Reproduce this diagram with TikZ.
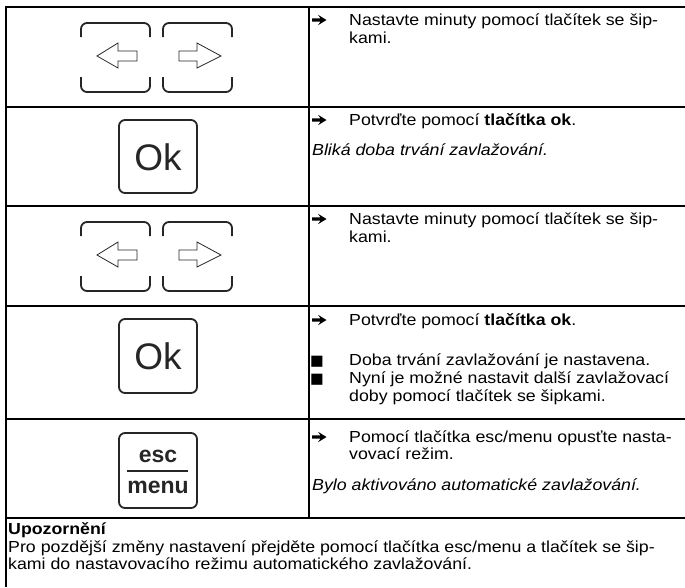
\documentclass[tikz,border=0pt]{standalone}
\usepackage{fontspec}
\setmainfont{Liberation Sans}
\newfontfamily\bodyfont{Liberation Sans}[FakeStretch=1.11]
\newfontfamily\symfont{DejaVu Sans}
\tikzset{
  grid/.style={line width=1.2pt, black},
  keyline/.style={line width=1.8pt, black!85, rounded corners=6pt},
  arrowline/.style={line width=0.8pt, black!85, line join=miter},
  bularrow/.style={fill=black},
  txt/.style={anchor=base west, inner sep=0pt, font=\bodyfont\fontsize{16}{18}\selectfont},
  sq/.style={anchor=base west, inner sep=0pt, font=\symfont\fontsize{14.5}{18}\selectfont},
  oktxt/.style={anchor=base, inner sep=0pt, font=\fontsize{37}{40}\selectfont, black!85},
  esctxt/.style={anchor=base, inner sep=0pt, font=\bfseries\fontsize{23}{26}\selectfont, black!85},
}
\newcommand{\arrowkeys}[1]{%
\begin{scope}[yshift=#1]
\draw[keyline] (81,37) -- (81,23) -- (150,23) -- (150,37);
\draw[keyline] (81,77) -- (81,92) -- (150,92) -- (150,77);
\draw[keyline] (163,37) -- (163,23) -- (232,23) -- (232,37);
\draw[keyline] (163,77) -- (163,92) -- (232,92) -- (232,77);
\draw[arrowline] (97,56) -- (118,43) -- (118,51) -- (137,51) -- (137,61) -- (118,61) -- (118,68) -- cycle;
\draw[arrowline] (221,56) -- (197,43) -- (197,51) -- (179,51) -- (179,61) -- (197,61) -- (197,68) -- cycle;
\end{scope}}
% heavy arrow bullet, centred vertically at #1
\newcommand{\bulletarrow}[1]{%
\fill[bularrow] (312,#1-1.6) -- (320.5,#1-1.6) -- (318,#1-5.2) -- (326.5,#1) -- (318,#1+5.2) -- (320.5,#1+1.6) -- (312,#1+1.6) -- cycle;}
\begin{document}
\begin{tikzpicture}[x=1pt,y=-1pt]
\useasboundingbox (0,0) rectangle (685,587);
% table grid
\draw[grid] (685,7) -- (6,7) -- (6,587);
\foreach \yy in {107,206,306,419,518} \draw[grid] (6,\yy) -- (685,\yy);
\draw[grid] (309,7) -- (309,518);

% ---- arrow keys
\arrowkeys{0pt}
\arrowkeys{-199pt}

% ---- Ok keys
\draw[keyline] (119,120) rectangle (197,193);
\node[oktxt] (ok1) at (158,170) {Ok};
\draw[keyline] (119,319) rectangle (197,393);
\node[oktxt] (ok2) at (158,369) {Ok};

% ---- esc/menu key
\draw[keyline] (119,433) rectangle (197,508);
\node[esctxt] (esc) at (158,462) {esc};
\draw[line width=2pt, black!85] (127,471) -- (188,471);
\node[esctxt] (menu) at (158,493) {menu};

% ---- right column texts
\bulletarrow{20}
\node[txt] (t1a) at (349,25) {Nastavte minuty pomocí tlačítek se šip-};
\node[txt] (t1b) at (349,43) {kami.};

\bulletarrow{120}
\node[txt] (t2a) at (349,125) {Potvrďte pomocí \textbf{tlačítka ok}.};
\node[txt] (t2b) at (312,155) {\itshape Bliká doba trvání zavlažování.};

\bulletarrow{219}
\node[txt] (t3a) at (349,224) {Nastavte minuty pomocí tlačítek se šip-};
\node[txt] (t3b) at (349,242) {kami.};

\bulletarrow{320}
\node[txt] (t4a) at (349,325) {Potvrďte pomocí \textbf{tlačítka ok}.};
\node[sq] (b1) at (310,365) {■};
\node[txt] (t4b) at (349,365) {Doba trvání zavlažování je nastavena.};
\node[sq] (b2) at (310,383) {■};
\node[txt] (t4c) at (349,383) {Nyní je možné nastavit další zavlažovací};
\node[txt] (t4d) at (349,401) {doby pomocí tlačítek se šipkami.};

\bulletarrow{437}
\node[txt] (t5a) at (349,442) {Pomocí tlačítka esc/menu opusťte nasta-};
\node[txt] (t5b) at (349,459) {vovací režim.};
\node[txt] (t5c) at (312,490) {\itshape Bylo aktivováno automatické zavlažování.};

% ---- note
\node[txt] (n1) at (8,534) {\bfseries Upozornění};
\node[txt] (n2) at (8,552) {Pro pozdější změny nastavení přejděte pomocí tlačítka esc/menu a tlačítek se šip-};
\node[txt] (n3) at (8,569) {kami do nastavovacího režimu automatického zavlažování.};
\end{tikzpicture}
\end{document}
